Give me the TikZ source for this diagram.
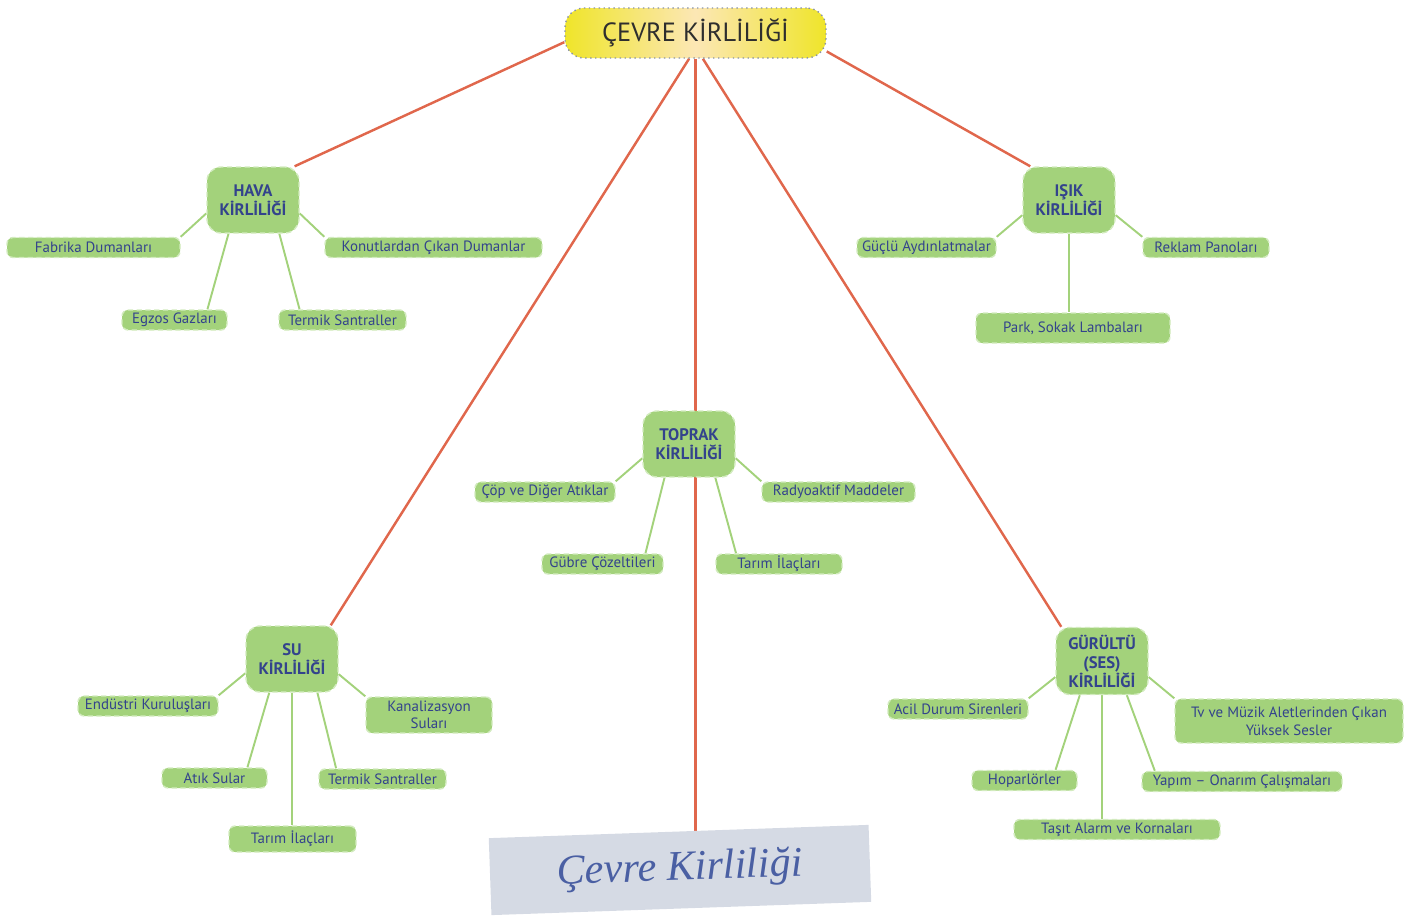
\documentclass[tikz,border=0pt]{standalone}
\usepackage{fontspec}
\setmainfont{PT Sans}
\newfontfamily\bannerfont{Liberation Serif}
\usepackage{tikz}
\usetikzlibrary{positioning,calc,backgrounds}
\definecolor{inkblue}{HTML}{33438C}
\definecolor{leafgreen}{HTML}{A3D27B}
\definecolor{edgegreen}{HTML}{D2EBBE}
\definecolor{linered}{HTML}{E0674C}
\definecolor{titletext}{HTML}{2E2E2E}
\definecolor{titleedge}{HTML}{8A93A6}
\definecolor{titleyellow}{HTML}{EFE52A}
\definecolor{titlepale}{HTML}{FCE7B5}
\definecolor{bannerfill}{HTML}{D5DAE4}
\definecolor{bannerink}{HTML}{4A5FA3}
\tikzset{
    every node/.style={font=\fontsize{8.5}{10}\selectfont,text=inkblue},
    wd/.style={minimum width=#1*0.02cm},
    ht/.style={minimum height=#1*0.02cm},
    titlebox/.style={rounded corners=11pt,draw=titleedge,dotted,line width=0.8pt,left color=titleyellow,right color=titleyellow,middle color=titlepale,wd=261,ht=50,font=\fontsize{15}{18}\selectfont,text=titletext},
    hub/.style={rounded corners=8pt,fill=leafgreen,draw=edgegreen,densely dashed,line width=0.8pt,wd=92,ht=66,inner sep=1pt,align=center,font=\bfseries\fontsize{9.5}{10.8}\selectfont},
    leaf/.style={rounded corners=3.5pt,fill=leafgreen,draw=edgegreen,densely dashed,line width=0.8pt,ht=20,inner sep=1pt,align=center},
    redline/.style={draw=linered,line width=1.4pt},
    greenline/.style={draw=leafgreen,line width=1.1pt},
    banner/.style={fill=bannerfill,wd=380,ht=77,rotate=2,font=\bannerfont\itshape\fontsize{24}{28}\selectfont,text=bannerink}
}
\begin{document}
\begin{tikzpicture}[x=0.02cm,y=-0.02cm]
\useasboundingbox (0,0) rectangle (1411,916);
\node[titlebox] (cevre) at (695.5,33) {ÇEVRE KİRLİLİĞİ};
\node[hub] (hava) at (253,200) {HAVA\\KİRLİLİĞİ};
\node[hub] (isik) at (1069,200) {IŞIK\\KİRLİLİĞİ};
\node[hub] (toprak) at (689,444) {TOPRAK\\KİRLİLİĞİ};
\node[hub] (su) at (292,659) {SU\\KİRLİLİĞİ};
\node[hub,ht=67] (gurultu) at (1102,661) {GÜRÜLTÜ\\(SES)\\KİRLİLİĞİ};
\node[banner] (baslik) at (680,870) {Çevre Kirliliği};
\node[leaf,wd=173] (fabrika) at (93.5,247.5) {Fabrika Dumanları};
\node[leaf,wd=217] (konut) at (433.5,247.5) {Konutlardan Çıkan Dumanlar};
\node[leaf,wd=105] (egzos) at (174.5,320) {Egzos Gazları};
\node[leaf,wd=127] (havatermik) at (342.5,320) {Termik Santraller};
\node[leaf,wd=139] (guclu) at (926.5,247.5) {Güçlü Aydınlatmalar};
\node[leaf,wd=126] (reklam) at (1206,247.5) {Reklam Panoları};
\node[leaf,wd=194,ht=30] (park) at (1073,328) {Park, Sokak Lambaları};
\node[leaf,wd=140] (cop) at (545,492) {Çöp ve Diğer Atıklar};
\node[leaf,wd=153] (radyo) at (838.5,492) {Radyoaktif Maddeler};
\node[leaf,wd=121] (gubre) at (602.5,564) {Gübre Çözeltileri};
\node[leaf,wd=126] (topraktarim) at (779,564) {Tarım İlaçları};
\node[leaf,wd=140] (endustri) at (148,706) {Endüstri Kuruluşları};
\node[leaf,wd=126,ht=36] (kanal) at (429,715) {Kanalizasyon\\Suları};
\node[leaf,wd=105] (atik) at (214.5,778) {Atık Sular};
\node[leaf,wd=127] (sutermik) at (382.5,779) {Termik Santraller};
\node[leaf,wd=127,ht=26] (sutarim) at (292.5,839) {Tarım İlaçları};
\node[leaf,wd=140] (acil) at (958,709) {Acil Durum Sirenleri};
\node[leaf,wd=228,ht=44] (tv) at (1289,721) {Tv ve Müzik Aletlerinden Çıkan\\Yüksek Sesler};
\node[leaf,wd=105] (hoparlor) at (1024.5,780.5) {Hoparlörler};
\node[leaf,wd=200] (yapim) at (1242,781.5) {Yapım -- Onarım Çalışmaları};
\node[leaf,wd=206] (tasit) at (1117,829.5) {Taşıt Alarm ve Kornaları};
\begin{scope}[on background layer]
\draw[redline] (cevre.184)--(hava.39);
\draw[redline] (cevre.-8)--(isik.139);
\draw[redline] (cevre.south)--(cevre.south |- baslik.north);
\draw[redline] (cevre.256)--(su.41);
\draw[redline] (cevre.-74)--(gurultu.140);
\draw[greenline] (hava.196)--(fabrika.north east);
\draw[greenline] (hava.-16)--(konut.north west);
\draw[greenline] (hava.-126)--(egzos.18);
\draw[greenline] (hava.-52)--(havatermik.166);
\draw[greenline] (isik.198)--(guclu.north east);
\draw[greenline] (isik.-18)--(reklam.north west);
\draw[greenline] (isik.south)--(isik.south |- park.north);
\draw[greenline] (toprak.197)--(cop.north east);
\draw[greenline] (toprak.-17)--(radyo.north west);
\draw[greenline] (toprak.-126)--(gubre.14);
\draw[greenline] (toprak.-52)--(topraktarim.166);
\draw[greenline] (su.197)--(endustri.north east);
\draw[greenline] (su.-18)--(kanal.north west);
\draw[greenline] (su.-124)--(atik.18);
\draw[greenline] (su.-53)--(sutermik.167);
\draw[greenline] (su.south)--(su.south |- sutarim.north);
\draw[greenline] (gurultu.199)--(acil.north east);
\draw[greenline] (gurultu.-19)--(tv.north west);
\draw[greenline] (gurultu.-123)--(hoparlor.19);
\draw[greenline] (gurultu.-54)--(yapim.173);
\draw[greenline] (gurultu.south)--(gurultu.south |- tasit.north);
\end{scope}
\end{tikzpicture}
\end{document}
